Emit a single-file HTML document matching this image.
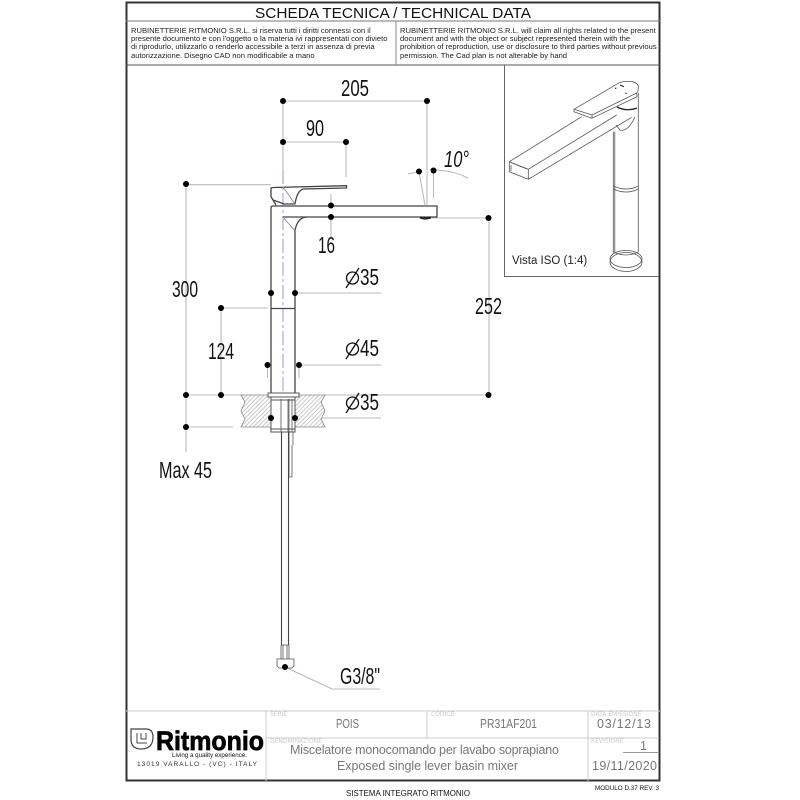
<!DOCTYPE html>
<html><head><meta charset="utf-8"><style>
html,body{margin:0;padding:0;background:#fff}
svg{display:block}
text{font-family:"Liberation Sans",sans-serif;fill:#111}
.d{font-size:23px}
.s{font-size:7.6px;fill:#222}
.t{fill:#777;font-size:12.5px}
.l{fill:#ccc;font-size:6px;font-family:"DejaVu Sans",sans-serif}
.g{stroke:#bbb;stroke-width:1.1;fill:none}
.k{stroke:#444;stroke-width:1.3;fill:none}
.f{stroke:#555;stroke-width:.8;fill:none}
.n{stroke:#ccc;stroke-width:1;fill:none}
</style></head><body>
<svg width="800" height="800" viewBox="0 0 800 800" xmlns="http://www.w3.org/2000/svg">
<defs><pattern id="h" width="3" height="3" patternUnits="userSpaceOnUse" patternTransform="rotate(-45)"><rect width="3" height="3" fill="#fff"/><line x1="0" y1="1" x2="3" y2="1" stroke="#bbb" stroke-width=".8"/></pattern></defs>

<!-- frame -->
<rect x="126.500" y="2.500" width="533" height="778" fill="none" stroke="#333" stroke-width="2"/>
<line x1="126" y1="21" x2="660" y2="21" stroke="#777"/>
<line x1="126" y1="65" x2="660" y2="65" stroke="#555"/>
<line x1="396" y1="21" x2="396" y2="65" stroke="#888"/>
<text x="393" y="18" font-size="15" text-anchor="middle" textLength="276" lengthAdjust="spacingAndGlyphs">SCHEDA TECNICA / TECHNICAL DATA</text>
<text class="s" x="131" y="33">RUBINETTERIE RITMONIO S.R.L. si riserva tutti i diritti connessi con il</text>
<text class="s" x="131" y="41">presente documento e con l'oggetto o la materia ivi rappresentati con divieto</text>
<text class="s" x="131" y="49">di riprodurlo, utilizzarlo o renderlo accessibile a terzi in assenza di previa</text>
<text class="s" x="131" y="58">autorizzazione. Disegno CAD non modificabile a mano</text>
<text class="s" x="400" y="33">RUBINETTERIE RITMONIO S.R.L. will claim all rights related to the present</text>
<text class="s" x="400" y="41">document and with the object or subject represented therein with the</text>
<text class="s" x="400" y="49">prohibition  of reproduction, use or disclosure to third parties without previous</text>
<text class="s" x="400" y="58">permission.  The Cad plan is not alterable by hand</text>

<!-- ISO box -->
<path d="M504.500 65V276.500H659" fill="none" stroke="#666"/>
<g class="f" stroke-linejoin="round">
<path d="M509.300 161.700L581.700 116.700M509.300 161.700V171.700L528.300 179.300V169.300L509.300 161.700M528.300 169.300L616.700 115M528.300 179.300L631.700 117.300"/>
<path d="M511 162.500L527 169M511 165V171"/>
<path d="M574 109.300L619.300 82.700Q626 80.500 632 81.700Q639 83 638.300 88Q638 93 636.700 93L592 115L574 109.300ZM574 109.300V111.700L591.700 118.300L637 96.700L636.700 93M592 115V118.300"/>
<path d="M613.300 131.700V252M614.800 131.700V252M638.300 93V252"/>
<path d="M616 125L620 130Q628 132 635 117"/>
<path d="M613.300 186Q626 192 638.300 186M613.300 189Q626 195 638.300 189"/>
<ellipse cx="626" cy="259" rx="16" ry="8.500"/>
<ellipse cx="626" cy="262" rx="16" ry="9.500"/>
<path d="M613.300 252Q626 258 638.300 252"/>
</g>
<path d="M617 107Q627 112 637 108" fill="none" stroke="#222" stroke-width="1.300"/>
<path d="M620 85L624 86.700" stroke="#111" stroke-width="1"/>
<circle cx="615.700" cy="88.300" r=".7" fill="#111"/><circle cx="626" cy="93.300" r=".7" fill="#111"/>
<text x="512" y="264" font-size="11.500" style="fill:#222">Vista ISO (1:4)</text>

<!-- dimension lines -->
<path class="g" d="M283 101H427M283 142H346M283 101V184M346 142V177M427 101V205M186 184.700H271M186 184V452M186 395H243M186 427H233M221 308H268M221 308V395M186 395H221"/>
<path class="g" d="M331 206V194M331 217V238M419 171.700L425 205M433.500 171V198M408 174L419 171.700M433.500 170Q452 170 468 178M432 218H489M489 218V395M325 395H489M295 293H381M299 365H381M295 418H381M267.500 365V378M299 365V378"/>
<path class="g" d="M285 667L332 689H380" stroke="#aaa"/>

<!-- centre line -->
<path d="M283 170V392" stroke="#9a9add" stroke-width="1" stroke-dasharray="14 3 3 3" fill="none"/>

<!-- tap side -->
<g class="k" stroke-linejoin="round">
<path d="M271 430V208Q271 206 273 206H437V217H307Q298 217 295 230V394"/>
<path d="M283 217H307"/>
<path d="M271 188Q271 187.500 274 187.500L346.600 185.700V188L303 189Q297 191 295 204H284L273 200L271 196.700Z"/>
<path d="M283 187L295 204M283 217L295 231" stroke="#888" stroke-width=".8"/>
<path d="M273 200L276 205"/>
<path d="M271 308.500H295"/>
</g>
<path d="M420 217.500Q425 219.500 431 217.500" stroke="#222" stroke-width="2.200" fill="none"/>

<!-- deck section -->
<path d="M241 395H325L321 402L325 411L321 419L325 427H241L245 419L241 411L245 402Z" fill="url(#h)" stroke="#888" stroke-width=".8"/>
<g stroke="#555" stroke-width="1" fill="#fff">
<rect x="268" y="393" width="31" height="4"/>
<rect x="271" y="397" width="24" height="3"/>
<rect x="271" y="400" width="24" height="31"/>
<rect x="271" y="429" width="24" height="3"/>
</g>
<path class="f" d="M281 399V432M288 399V432M289 399V477H292V445M292 399V432M293 445V432"/>
<path d="M281.500 432V645M288.500 432V645" stroke="#444" stroke-width="1.100" fill="none"/>
<path class="f" d="M281 645H289V659M281 645V659M283 645V659M287 645V659"/>
<path class="f" d="M277 659H294V666L292 668H279L277 666Z"/>

<!-- dots -->
<g fill="#000">
<circle cx="283" cy="101" r="3"/><circle cx="427" cy="101" r="3"/>
<circle cx="283" cy="142" r="3"/><circle cx="346" cy="142" r="3"/>
<circle cx="331" cy="205.500" r="3"/><circle cx="331" cy="217" r="3"/>
<circle cx="419" cy="171.500" r="3"/><circle cx="433.500" cy="170.500" r="3"/>
<circle cx="488.500" cy="218" r="3"/><circle cx="488.500" cy="395" r="3"/>
<circle cx="186" cy="184" r="3"/><circle cx="186" cy="395" r="3"/><circle cx="186" cy="427" r="3"/>
<circle cx="221" cy="308" r="3"/><circle cx="221" cy="395" r="3"/>
<circle cx="271" cy="293" r="3"/><circle cx="295" cy="293" r="3"/>
<circle cx="267.500" cy="365" r="3"/><circle cx="299" cy="365" r="3"/>
<circle cx="271" cy="418" r="3"/><circle cx="295" cy="418" r="3"/>
<circle cx="285" cy="667" r="3"/>
</g>

<!-- dim labels -->
<text x="341" y="96" class="d" textLength="28" lengthAdjust="spacingAndGlyphs">205</text>
<text x="306" y="136" class="d" textLength="18" lengthAdjust="spacingAndGlyphs">90</text>
<text x="318" y="253" class="d" textLength="17" lengthAdjust="spacingAndGlyphs">16</text>
<text x="444" y="167" class="d" font-style="italic" style="font-style:italic" textLength="25" lengthAdjust="spacingAndGlyphs">10°</text>
<text x="172" y="297" class="d" textLength="26" lengthAdjust="spacingAndGlyphs">300</text>
<text x="208" y="359" class="d" textLength="26" lengthAdjust="spacingAndGlyphs">124</text>
<text x="475" y="314" class="d" textLength="27" lengthAdjust="spacingAndGlyphs">252</text>
<text x="159" y="478" class="d" textLength="53" lengthAdjust="spacingAndGlyphs">Max 45</text>
<text x="360" y="285" class="d" textLength="19" lengthAdjust="spacingAndGlyphs">35</text>
<text x="360" y="356" class="d" textLength="19" lengthAdjust="spacingAndGlyphs">45</text>
<text x="360" y="410" class="d" textLength="19" lengthAdjust="spacingAndGlyphs">35</text>
<text x="340" y="684" class="d" textLength="40" lengthAdjust="spacingAndGlyphs">G3/8"</text>
<g fill="none" stroke="#111" stroke-width="1.300">
<circle cx="352.500" cy="278" r="6"/><path d="M346 288L359 268"/>
<circle cx="352.500" cy="349" r="6"/><path d="M346 359L359 339"/>
<circle cx="352.500" cy="403" r="6"/><path d="M346 413L359 393"/>
</g>

<!-- title block -->
<path class="n" d="M126 711H660M266 711V781M266 738H588M427 711V738M588 711V781M588 738H659"/>
<path d="M623 752.500H659" stroke="#999" fill="none"/>
<g fill="none" stroke="#444">
<path d="M131 729H146Q153 729 153 737Q153 749 141 749Q131 749 131 739Z" stroke-width="1.200"/>
<path d="M137 733V743H147M141 733V739H146V733" stroke-width="1"/>
</g>
<text x="156" y="750" font-size="27" font-weight="700" style="fill:#000;stroke:#000;stroke-width:.7" textLength="108" lengthAdjust="spacingAndGlyphs">Ritmonio</text>
<text x="172" y="757" font-size="6.500" textLength="75" lengthAdjust="spacingAndGlyphs">Living a quality experience.</text>
<text x="137" y="766" font-size="6.500" style="fill:#333" textLength="120" lengthAdjust="spacing">13019 VARALLO - (VC) - ITALY</text>
<text class="l" x="270" y="716">SERIE</text>
<text class="l" x="431" y="716">CODICE</text>
<text class="l" x="591" y="716">DATA  EMISSIONE</text>
<text class="l" x="270" y="743">DENOMINAZIONE</text>
<text class="l" x="591" y="743">REVISIONE</text>
<text class="t" x="336" y="728" textLength="23" lengthAdjust="spacingAndGlyphs">POIS</text>
<text class="t" x="480" y="728" textLength="57" lengthAdjust="spacingAndGlyphs">PR31AF201</text>
<text class="t" x="597" y="728" textLength="54" lengthAdjust="spacing">03/12/13</text>
<text class="t" x="640" y="750">1</text>
<text class="t" x="592" y="770" textLength="65" lengthAdjust="spacing">19/11/2020</text>
<text class="t" x="290" y="754" textLength="269" lengthAdjust="spacing">Miscelatore monocomando per lavabo soprapiano</text>
<text class="t" x="337" y="770" textLength="181" lengthAdjust="spacing">Exposed single lever basin mixer</text>

<text x="346" y="796" font-size="8.500" textLength="124" lengthAdjust="spacingAndGlyphs">SISTEMA INTEGRATO RITMONIO</text>
<text x="595" y="790" font-size="6.500" textLength="64" lengthAdjust="spacingAndGlyphs">MODULO D.37 REV. 3</text>
</svg>
</body></html>
